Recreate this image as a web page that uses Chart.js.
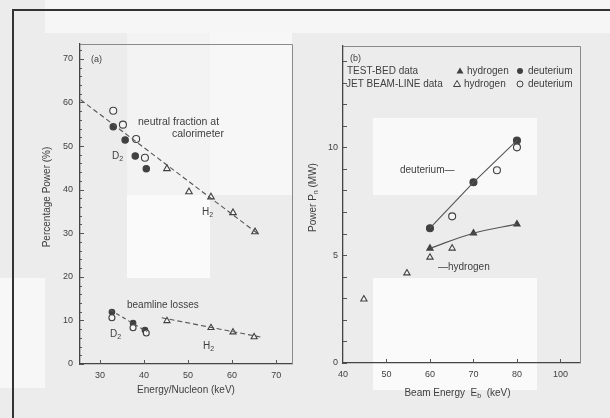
<!DOCTYPE html>
<html><head><meta charset="utf-8">
<script src="https://cdn.jsdelivr.net/npm/chart.js@4.4.1/dist/chart.umd.min.js"></script>
<style>
html,body{margin:0;padding:0;background:#ececec;width:610px;height:418px;overflow:hidden;position:relative;}
.p{position:absolute;}
canvas{position:absolute;top:0;}
</style></head><body>
<div class="p" style="left:45px;top:0;width:565px;height:33px;background:#f6f6f6"></div>
<div class="p" style="left:127px;top:33px;width:165px;height:162px;background:#f3f3f3"></div>
<div class="p" style="left:210px;top:33px;width:82px;height:162px;background:#f7f7f7"></div>
<div class="p" style="left:127px;top:195px;width:83px;height:83px;background:#fafafa"></div>
<div class="p" style="left:0;top:278px;width:45px;height:110px;background:#f7f7f7"></div>
<div class="p" style="left:373px;top:118px;width:164px;height:77px;background:#f9f9f9"></div>
<div class="p" style="left:373px;top:278px;width:164px;height:112px;background:#fafafa"></div>
<div class="p" style="left:13px;top:9px;width:597px;height:2px;background:#333"></div>
<div class="p" style="left:12px;top:9px;width:2px;height:409px;background:#333"></div>
<canvas id="ca" width="300" height="418" style="left:0"></canvas>
<canvas id="cb" width="310" height="418" style="left:300px"></canvas>
<script>
// ---------- Panel (a) data ----------
const aXTicks = [30, 40, 50, 60, 70];
const aYTicks = [0, 10, 20, 30, 40, 50, 60, 70];
const aD2TestBedNeutralX = [33.0, 35.7, 38.0, 40.5];
const aD2TestBedNeutralY = [54.4, 51.4, 47.7, 44.8];
const aD2JetNeutralX = [33.0, 35.2, 38.2, 40.2];
const aD2JetNeutralY = [58.1, 54.9, 51.6, 47.3];
const aH2JetNeutralX = [45.2, 50.2, 55.2, 60.2, 65.2];
const aH2JetNeutralY = [44.8, 39.5, 38.3, 34.7, 30.3];
const aNeutralFitX = [25.6, 65.7];
const aNeutralFitY = [60.6, 30.0];
const aD2TestBedLossX = [32.7, 37.5, 40.2];
const aD2TestBedLossY = [11.9, 9.4, 7.8];
const aD2JetLossX = [32.7, 37.5, 40.5];
const aD2JetLossY = [10.6, 8.3, 7.1];
const aH2JetLossX = [45.2, 55.2, 60.2, 65.0];
const aH2JetLossY = [9.9, 8.3, 7.3, 6.2];
const aD2LossFitX = [32.3, 40.7];
const aD2LossFitY = [12.4, 7.4];
const aH2LossFitX = [44.0, 66.4];
const aH2LossFitY = [10.6, 6.2];

// ---------- Panel (b) data ----------
const bXTicks = [40, 50, 60, 70, 80, 90];
const bXTickLabels = ['40', '50', '60', '70', '80', '100'];
const bYTicks = [0, 1, 2, 3, 4, 5, 6, 7, 8, 9, 10, 11, 12, 13, 14];
const bYTickLabels = {0: '0', 5: '5', 10: '10'};
const bTestBedDX = [60, 70, 80];
const bTestBedDY = [6.25, 8.38, 10.32];
const bJetDX = [65.1, 75.4, 80];
const bJetDY = [6.8, 8.94, 10.0];
const bTestBedHX = [60, 70, 80];
const bTestBedHY = [5.32, 6.02, 6.44];
const bJetHX = [44.8, 54.7, 60, 65.1];
const bJetHY = [2.96, 4.17, 4.9, 5.32];

const INK = '#404040';
const FONT = '"Liberation Sans", Arial, Helvetica, sans-serif';
const pts = (xs, ys) => xs.map((x, i) => ({x, y: ys[i]}));

function rich(ctx, parts, x, y, align, size) {
  ctx.textBaseline = 'middle';
  ctx.textAlign = 'left';
  let w = 0;
  parts.forEach(p => { ctx.font = (p.sub ? size * 0.7 : size) + 'px ' + FONT; w += ctx.measureText(p.t).width; });
  let cx = align === 'center' ? x - w / 2 : (align === 'right' ? x - w : x);
  parts.forEach(p => {
    ctx.font = (p.sub ? size * 0.7 : size) + 'px ' + FONT;
    ctx.fillText(p.t, cx, p.sub ? y + size * 0.35 : y);
    cx += ctx.measureText(p.t).width;
  });
}

function markerDataset(data, style, filled, r) {
  return {data, showLine: false, pointStyle: style, pointRadius: r || 3.5,
    pointBorderColor: INK, pointBackgroundColor: filled ? INK : 'rgba(245,245,245,1)', pointBorderWidth: 1.1};
}
function lineDataset(data, dash, tension) {
  return {data, showLine: true, pointRadius: 0, borderColor: '#555', borderWidth: 1.1,
    borderDash: dash || [], tension: tension || 0};
}

const deco = {
  id: 'deco',
  afterDraw(chart, args, o) {
    const ctx = chart.ctx, a = chart.chartArea, xs = chart.scales.x, ys = chart.scales.y;
    ctx.save();
    // frame top/right
    ctx.strokeStyle = '#8a8a8a'; ctx.lineWidth = 1;
    ctx.beginPath();
    ctx.moveTo(a.left, a.top + 0.5); ctx.lineTo(a.right + 0.5, a.top + 0.5); ctx.lineTo(a.right + 0.5, a.bottom);
    ctx.stroke();
    // inward ticks
    ctx.strokeStyle = '#555'; ctx.lineWidth = 1;
    ctx.beginPath();
    o.xTicks.forEach(v => { const px = Math.round(xs.getPixelForValue(v)) + 0.5; ctx.moveTo(px, a.bottom); ctx.lineTo(px, a.bottom - 4); });
    o.yTicks.forEach(v => { const py = Math.round(ys.getPixelForValue(v)) + 0.5; ctx.moveTo(a.left, py); ctx.lineTo(a.left + 4, py); });
    (o.yMinor || []).forEach(v => { const py = Math.round(ys.getPixelForValue(v)) + 0.5; ctx.moveTo(a.left, py); ctx.lineTo(a.left + 2, py); });
    ctx.stroke();
    ctx.fillStyle = INK;
    o.texts.forEach(t => rich(ctx, t.parts, t.x, t.y, t.align || 'left', t.size || 10));
    // axis titles
    const cx = (a.left + a.right) / 2;
    rich(ctx, o.xTitle, cx + (o.xTitleDx || 0), o.xTitleY, 'center', 10);
    ctx.translate(o.yTitleX, (a.top + a.bottom) / 2 - 7);
    ctx.rotate(-Math.PI / 2);
    rich(ctx, o.yTitle, 0, 0, 'center', 10);
    ctx.restore();
    if (o.extra) o.extra(chart);
  }
};

function baseScales(xmin, xmax, ymin, ymax, xTicks, yTicks, xLabel, yLabel, yW, xH, yPad) {
  return {
    x: {type: 'linear', min: xmin, max: xmax,
      afterBuildTicks: ax => { ax.ticks = xTicks.map(v => ({value: v})); },
      afterFit: s => { s.height = xH; },
      grid: {display: false, drawTicks: false}, border: {display: true, color: '#444', width: 1.3},
      ticks: {padding: 6, color: INK, font: {family: FONT, size: 9}, maxRotation: 0, autoSkip: false, callback: xLabel}},
    y: {type: 'linear', min: ymin, max: ymax,
      afterBuildTicks: ax => { ax.ticks = yTicks.map(v => ({value: v})); },
      afterFit: s => { s.width = yW; },
      grid: {display: false, drawTicks: false}, border: {display: true, color: '#444', width: 1.3},
      ticks: {padding: yPad, color: INK, font: {family: FONT, size: 9}, autoSkip: false, callback: yLabel}}
  };
}

const common = {responsive: false, animation: false, events: [],
  plugins: {legend: {display: false}, tooltip: {enabled: false}}};

// ---------- Chart (a) ----------
new Chart(document.getElementById('ca'), {
  type: 'scatter',
  data: {datasets: [
    lineDataset(pts(aNeutralFitX, aNeutralFitY), [5, 3]),
    lineDataset(pts(aD2LossFitX, aD2LossFitY), [4, 3]),
    lineDataset(pts(aH2LossFitX, aH2LossFitY), [5, 3]),
    markerDataset(pts(aD2JetNeutralX, aD2JetNeutralY), 'circle', false),
    markerDataset(pts(aD2TestBedNeutralX, aD2TestBedNeutralY), 'circle', true, 3.2),
    markerDataset(pts(aH2JetNeutralX, aH2JetNeutralY), 'triangle', false, 3.8),
    markerDataset(pts(aD2JetLossX, aD2JetLossY), 'circle', false, 3),
    markerDataset(pts(aD2TestBedLossX, aD2TestBedLossY), 'circle', true, 2.8),
    markerDataset(pts(aH2JetLossX, aH2JetLossY), 'triangle', false, 3.5)
  ]},
  options: Object.assign({}, common, {
    layout: {padding: {left: 0, top: 44, right: 8, bottom: 0}},
    scales: baseScales(25.45, 73.6, 0, 73.4, aXTicks, aYTicks, v => String(v), v => String(v), 80, 54, 7),
    plugins: Object.assign({}, common.plugins, {deco: {
      xTicks: aXTicks, yTicks: aYTicks,
      yMinor: [2,4,6,8,12,14,16,18,22,24,26,28,32,34,36,38,42,44,46,48,52,54,56,58,62,64,66,68,72],
      xTitle: [{t: 'Energy/Nucleon (keV)'}], xTitleY: 390,
      yTitle: [{t: 'Percentage Power (%)'}], yTitleX: 47,
      texts: [
        {parts: [{t: '(a)'}], x: 91, y: 60, size: 9},
        {parts: [{t: 'neutral fraction at'}], x: 138, y: 122, size: 10.5},
        {parts: [{t: 'calorimeter'}], x: 172, y: 134, size: 10.5},
        {parts: [{t: 'D'}, {t: '2', sub: true}], x: 112, y: 156},
        {parts: [{t: 'H'}, {t: '2', sub: true}], x: 202, y: 212},
        {parts: [{t: 'beamline losses'}], x: 127, y: 305},
        {parts: [{t: 'D'}, {t: '2', sub: true}], x: 110, y: 334},
        {parts: [{t: 'H'}, {t: '2', sub: true}], x: 203, y: 346}
      ]}})
  }),
  plugins: [deco]
});

// ---------- Chart (b) ----------
function legendExtra(chart) {
  const ctx = chart.ctx;
  ctx.save();
  ctx.fillStyle = INK; ctx.strokeStyle = INK; ctx.lineWidth = 1;
  const tri = (x, y, fill) => { ctx.beginPath(); ctx.moveTo(x, y - 3.5); ctx.lineTo(x + 3.5, y + 2.5); ctx.lineTo(x - 3.5, y + 2.5); ctx.closePath(); fill ? ctx.fill() : ctx.stroke(); };
  const cir = (x, y, fill) => { ctx.beginPath(); ctx.arc(x, y, 3, 0, Math.PI * 2); fill ? ctx.fill() : ctx.stroke(); };
  tri(160, 71, true); cir(220, 71, true);
  tri(157, 84, false); cir(220, 84, false);
  ctx.restore();
}
new Chart(document.getElementById('cb'), {
  type: 'scatter',
  data: {datasets: [
    lineDataset(pts(bTestBedDX, bTestBedDY)),
    lineDataset(pts(bTestBedHX, bTestBedHY), [], 0.35),
    markerDataset(pts(bJetDX, bJetDY), 'circle', false),
    markerDataset(pts(bTestBedDX, bTestBedDY), 'circle', true),
    markerDataset(pts(bJetHX, bJetHY), 'triangle', false, 3.6),
    markerDataset(pts(bTestBedHX, bTestBedHY), 'triangle', true, 3.6)
  ]},
  options: Object.assign({}, common, {
    layout: {padding: {left: 0, top: 46, right: 30, bottom: 0}},
    scales: baseScales(40, 94.5, 0, 14.7, bXTicks, bYTicks,
      (v, i) => bXTickLabels[bXTicks.indexOf(v)], v => bYTickLabels[v] || '', 43, 55, 5),
    plugins: Object.assign({}, common.plugins, {deco: {
      xTicks: bXTicks.slice(1), yTicks: bYTicks,
      xTitle: [{t: 'Beam Energy  E'}, {t: 'b', sub: true}, {t: '  (keV)'}], xTitleY: 393, xTitleDx: -4,
      yTitle: [{t: 'Power P'}, {t: 'n', sub: true}, {t: ' (MW)'}], yTitleX: 13,
      texts: [
        {parts: [{t: '(b)'}], x: 50, y: 59, size: 9},
        {parts: [{t: 'TEST-BED data'}], x: 47, y: 71},
        {parts: [{t: 'JET BEAM-LINE data'}], x: 46, y: 84},
        {parts: [{t: 'hydrogen'}], x: 167, y: 71},
        {parts: [{t: 'deuterium'}], x: 228, y: 71},
        {parts: [{t: 'hydrogen'}], x: 164, y: 84},
        {parts: [{t: 'deuterium'}], x: 228, y: 84},
        {parts: [{t: 'deuterium—'}], x: 100, y: 170},
        {parts: [{t: '—hydrogen'}], x: 138, y: 267}
      ], extra: legendExtra}})
  }),
  plugins: [deco]
});
</script>
</body></html>
